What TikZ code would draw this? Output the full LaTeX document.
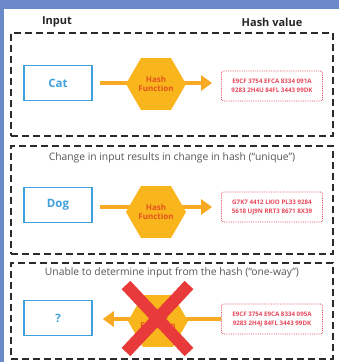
\documentclass[tikz,border=0pt]{standalone}
\usepackage{fontspec}
\setmainfont{Open Sans}
\usetikzlibrary{arrows.meta,positioning,shapes.geometric}

\definecolor{bgblue}{HTML}{6B89C9}
\definecolor{inblue}{HTML}{3FA0DC}
\definecolor{hexfill}{HTML}{F9B51C}
\definecolor{hextext}{HTML}{E2531F}
\definecolor{arrowyel}{HTML}{F7AA22}
\definecolor{hashred}{HTML}{E8485A}
\definecolor{xred}{HTML}{E83A3A}
\definecolor{capgray}{HTML}{555555}
\definecolor{panelgray}{HTML}{2B2B2B}

\begin{document}
\begin{tikzpicture}[
  x=1pt, y=-1pt,
  font=\small,
  header/.style={font=\fontsize{11}{13}\selectfont\bfseries, text=black!85},
  caption/.style={font=\fontsize{10.3}{12}\selectfont, text=capgray},
  panel/.style={rectangle, draw=panelgray, line width=1.8pt, dash pattern=on 7pt off 4pt, minimum width=322pt},
  inbox/.style={rectangle, draw=inblue, line width=1.5pt, minimum width=68pt, minimum height=35pt, text=inblue, font=\fontsize{11.5}{13}\selectfont\bfseries},
  hashfn/.style={regular polygon, regular polygon sides=6, minimum size=60pt, inner sep=0pt, fill=hexfill, text=hextext, align=center, font=\fontsize{8}{9.5}\selectfont\bfseries},
  hashbox/.style={rectangle, rounded corners=2pt, draw=hashred, densely dotted, line width=0.8pt, minimum width=101pt, minimum height=30pt, text=hashred, align=center, font=\fontsize{6.2}{9}\selectfont\bfseries},
  flow/.style={-{Triangle[length=11pt,width=15pt]}, draw=arrowyel, line width=4pt},
  cross/.style={draw=xred, line width=12pt}
]

% Frame
\useasboundingbox (0,0) rectangle (339,362);
\fill[bgblue] (0,0) rectangle (339,362);
\fill[white] (4,9) rectangle (339,362);

% Headers
\node[header] (inlabel) at (57,22) {Input};
\node[header] (outlabel) at (272,22) {Hash value};

% Panels
\node[panel, minimum height=103pt] (grp1) at (172,84.5) {};
\node[panel, minimum height=108pt] (grp2) at (172,200) {};
\node[panel, minimum height=96pt] (grp3) at (172,311) {};

\node[caption, below=4pt of grp2.north] (cap2) {Change in input results in change in hash (“unique”)};
\node[caption, below=2pt of grp3.north] (cap3) {Unable to determine input from the hash (“one-way”)};

% Row 1
\node[inbox] (cat) at (58,83) {Cat};
\node[hashbox] (hash1) at (272,86) {E9CF 3754 EFCA 8334 091A\\9283 2H4U 84FL 3443 99DK};
\draw[flow, shorten <=7pt, shorten >=9pt] (cat.east) -- (cat.east -| hash1.west);
\node[hashfn] (hex1) at (156,84) {Hash\\Function};

% Row 2
\node[inbox] (dog) at (58,205) {Dog};
\node[hashbox] (hash2) at (272,207) {G7K7 4412 LKIO PL33 9284\\5618 UJ9N RRT3 8671 8X39};
\draw[flow, shorten <=7pt, shorten >=9pt] (dog.east |- hash2.west) -- (hash2.west);
\node[hashfn] (hex2) at (156,212) {Hash\\Function};

% Row 3
\node[inbox] (quest) at (58,318) {?};
\node[hashbox] (hash3) at (272,319) {E9CF 3754 E9CA 8334 095A\\9283 2H4J 84FL 3443 99DK};
\draw[flow, shorten <=0pt, shorten >=10pt] (hash3.west) -- (hash3.west -| quest.east);
\node[hashfn] (hex3) at (158,321) {Hash\\Function};
\draw[cross] (126,285) -- (189,352);
\draw[cross] (189,285) -- (126,352);

\end{tikzpicture}
\end{document}
